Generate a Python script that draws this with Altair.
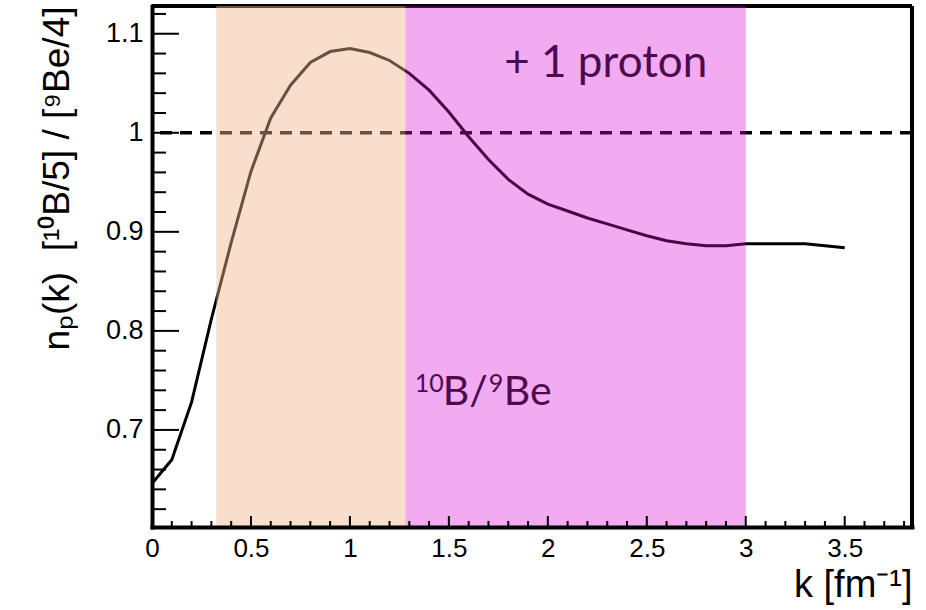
import altair as alt
import pandas as pd

# Proton momentum distribution ratio, 10B/5 over 9Be/4
k_vals = [0.0, 0.1, 0.2, 0.3, 0.4, 0.5, 0.6, 0.7, 0.8, 0.9, 1.0, 1.1, 1.2,
          1.3, 1.4, 1.5, 1.6, 1.7, 1.8, 1.9, 2.0, 2.1, 2.2, 2.3, 2.4, 2.5,
          2.6, 2.7, 2.8, 2.9, 3.0, 3.1, 3.2, 3.3, 3.4, 3.5]
ratio_vals = [0.646, 0.670, 0.728, 0.812, 0.889, 0.961, 1.015, 1.048, 1.071,
              1.082, 1.085, 1.081, 1.073, 1.060, 1.043, 1.021, 0.996, 0.973,
              0.953, 0.938, 0.928, 0.921, 0.914, 0.908, 0.902, 0.896, 0.891,
              0.888, 0.886, 0.886, 0.888, 0.888, 0.888, 0.888, 0.886, 0.884]

# Shaded k-ranges
band_lo = [0.325, 1.28]
band_hi = [1.28, 3.0]
band_color = ["#F1B58C", "#D909D4"]
band_opacity = [0.443, 0.345]

# Axis ticks
x_major = [0, 0.5, 1, 1.5, 2, 2.5, 3, 3.5]
x_minor = [round(0.1 * i, 1) for i in range(0, 39) if i % 5 != 0]
y_major = [0.7, 0.8, 0.9, 1.0, 1.1]
y_minor = [round(0.62 + 0.02 * i, 2) for i in range(0, 26)]
y_minor = [v for v in y_minor if v not in y_major]

# Annotations
proton_text = "+ 1 proton"
proton_k, proton_v = 2.293, 1.0566
ratio_parts = ["10", "B/", "9", "Be"]
ratio_k, ratio_v = 1.328, 0.725

W, H = 760, 521
X_DOMAIN = [0, 3.84]
Y_DOMAIN = [0.602, 1.128]
FONT = "Liberation Sans"
TEXT_COLOR = "#4d0a4d"

xscale = alt.Scale(domain=X_DOMAIN, nice=False, zero=False)
yscale = alt.Scale(domain=Y_DOMAIN, nice=False, zero=False)

xaxis = alt.Axis(values=x_major, format="~g", ticks=False, grid=False,
                 domainWidth=4, domainColor="black", domainCap="square",
                 labelFont=FONT, labelFontSize=26, labelColor="black",
                 labelPadding=8, labelFlush=False,
                 title="k [fm⁻¹]", titleFont=FONT, titleFontSize=38,
                 titleFontWeight="normal", titleColor="black",
                 titleAnchor="end", titlePadding=5, zindex=1)
yaxis = alt.Axis(values=y_major, format="~g", ticks=False, grid=False,
                 domainWidth=4, domainColor="black", domainCap="square",
                 labelFont=FONT, labelFontSize=27, labelColor="black",
                 labelPadding=9, labelFlush=False,
                 title="nₚ(k)\u00a0\u00a0[¹⁰B/5] / [⁹Be/4]", titleFont=FONT,
                 titleFontSize=37, titleFontWeight="normal",
                 titleColor="black", titleAnchor="end", titlePadding=29,
                 zindex=1)


def X(field="k"):
    return alt.X(f"{field}:Q", scale=xscale, axis=xaxis)


def Y(field="v"):
    return alt.Y(f"{field}:Q", scale=yscale, axis=yaxis)


curve_df = pd.DataFrame({"k": k_vals, "v": ratio_vals})
curve = alt.Chart(curve_df).mark_line(color="black", strokeWidth=3).encode(
    x=X(), y=Y())

unity = alt.Chart(pd.DataFrame({"v": [1.0]})).mark_rule(
    color="black", strokeWidth=3.5, strokeDash=[12, 8]
).encode(y=Y())

one = pd.DataFrame({"n": [0]})
frame_top = alt.Chart(one).mark_rule(color="black", strokeWidth=4).encode(
    x=alt.value(0), x2=alt.value(W), y=alt.value(0))
frame_right = alt.Chart(one).mark_rule(color="black", strokeWidth=4).encode(
    x=alt.value(W), y=alt.value(0), y2=alt.value(H))

bands = []
for lo, hi, col, op in zip(band_lo, band_hi, band_color, band_opacity):
    bdf = pd.DataFrame({"k": [lo], "k2": [hi]})
    bands.append(
        alt.Chart(bdf).mark_rect(color=col, opacity=op).encode(
            x=X(), x2="k2:Q", y=alt.value(0), y2=alt.value(H))
    )


def xticks(values, length):
    return alt.Chart(pd.DataFrame({"k": values})).mark_rule(
        color="black", strokeWidth=2
    ).encode(x=X(), y=alt.value(H), y2=alt.value(H - length))


def yticks(values, length):
    return alt.Chart(pd.DataFrame({"v": values})).mark_rule(
        color="black", strokeWidth=2
    ).encode(y=Y(), x=alt.value(0), x2=alt.value(length))


label_proton = alt.Chart(
    pd.DataFrame({"k": [proton_k], "v": [proton_v], "t": [proton_text]})
).mark_text(
    font="Lato", fontSize=44, color=TEXT_COLOR, align="center",
    baseline="alphabetic"
).encode(x=X(), y=Y(), text="t:N")

# 10B/9Be written piecewise so the mass numbers sit as superscripts
ratio_style = [  # (fontSize, dx, dy) for each piece
    (25, 0, -13),
    (41, 28, 0),
    (25, 74, -13),
    (41, 89, 0),
]
ratio_labels = []
for part, (fs, dx, dy) in zip(ratio_parts, ratio_style):
    ratio_labels.append(
        alt.Chart(pd.DataFrame({"k": [ratio_k], "v": [ratio_v], "t": [part]}))
        .mark_text(font="Lato", fontSize=fs, color=TEXT_COLOR, align="left",
                   baseline="alphabetic", dx=dx, dy=dy)
        .encode(x=X(), y=Y(), text="t:N")
    )

chart = alt.layer(
    curve, unity, frame_top, frame_right, *bands,
    xticks(x_major, 11), xticks(x_minor, 6),
    yticks(y_major, 27), yticks(y_minor, 14),
    label_proton, *ratio_labels,
).properties(
    width=W, height=H,
    autosize=alt.AutoSizeParams(type="none"),
    padding={"left": 152, "top": 6, "right": 14, "bottom": 83},
).configure_view(stroke=None).configure(background="white")

chart.save("out.html", embed_options={"renderer": "svg", "actions": False})
